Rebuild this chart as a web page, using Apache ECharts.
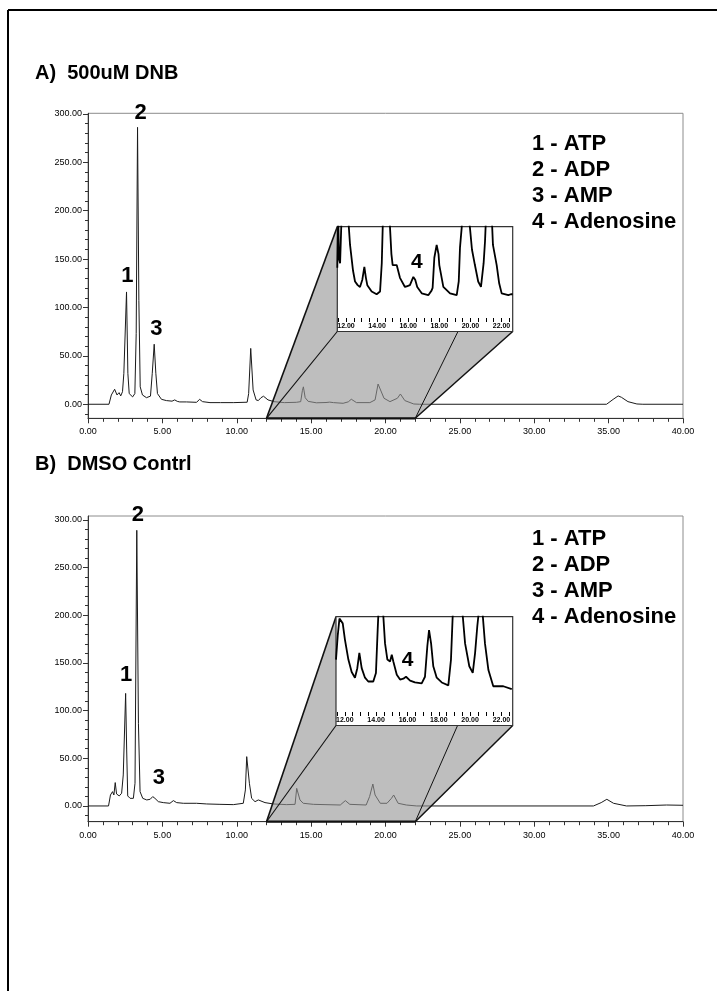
<!DOCTYPE html>
<html><head><meta charset="utf-8">
<script src="https://cdn.jsdelivr.net/npm/echarts@6/dist/echarts.min.js"></script>
<style>html,body{margin:0;padding:0;background:#fff}#c{width:717px;height:991px}</style>
</head><body><div id="c"></div>
<script>
// ---------------- data ----------------
const titleA = 'A)  500uM DNB';
const titleB = 'B)  DMSO Contrl';
const legendLines = ['1 - ATP', '2 - ADP', '3 - AMP', '4 - Adenosine'];

const mainXRange = [0, 40];
const mainYMajorTicks = [0, 50, 100, 150, 200, 250, 300];
const mainYMinorTicks = [-10, 0, 10, 20, 30, 40, 50, 60, 70, 80, 90, 100, 110, 120, 130, 140, 150, 160, 170, 180, 190, 200, 210, 220, 230, 240, 250, 260, 270, 280, 290, 300];
const yRangeA = [-14.5, 300.5];
const yRangeB = [-16.5, 304];

const zoomWindow = [12, 22];          // region of main x-axis that is magnified
const insetXRange = [11.44, 22.72];
const insetXTicks = [11.5, 12, 12.5, 13, 13.5, 14, 14.5, 15, 15.5, 16, 16.5, 17, 17.5, 18, 18.5, 19, 19.5, 20, 20.5, 21, 21.5, 22, 22.5];
const insetXLabels = [12, 14, 16, 18, 20, 22];
const insetGuideX = 19.2;

// main chromatogram A (time min, mAU)
const traceA = [[0,0],[1.41,0],[1.57,9.6],[1.68,11.3],[1.79,15.5],[1.86,17.5],[1.95,9.6],[2.09,12],[2.2,8.6],[2.32,13],[2.41,32],[2.5,32.6],[2.59,116],[2.68,32],[2.77,11],[3.0,7.6],[3.15,11],[3.24,73],[3.33,286],[3.42,107],[3.51,18],[3.66,9.6],[3.93,6.8],[4.2,8.4],[4.32,32],[4.45,62],[4.56,32],[4.67,11],[4.94,5.1],[5.27,3.8],[5.65,3.2],[5.83,4.5],[6.0,3],[6.17,2.4],[6.62,2.4],[7.3,2],[7.5,5.1],[7.7,2.7],[8.2,1.7],[8.9,1.7],[9.8,1.7],[10.7,2.1],[10.8,11],[10.94,57.7],[10.98,58.8],[11.1,14.8],[11.3,4.5],[11.45,3.8],[11.63,6.8],[11.8,8.3],[12.1,4.5],[12.5,2.7],[13.2,1.7],[14.0,2],[14.3,2.7],[14.41,14],[14.48,18],[14.6,6.8],[14.8,3],[15.35,1.5],[16.0,1.8],[16.25,2.2],[16.5,1.7],[17.15,1],[17.5,2.5],[17.7,5.2],[18.05,1.7],[18.95,1.7],[19.3,4.5],[19.5,20.9],[19.6,20],[19.9,6.2],[20.3,2.7],[20.8,6.2],[21.0,10.6],[21.3,3.8],[21.9,0.3],[22.3,0],[34.86,0],[35.3,5],[35.64,8.6],[35.86,7.2],[36.3,2.7],[36.9,0.3],[37.3,0],[40,0]];

// main chromatogram B
const traceB = [[0,0],[1.38,0],[1.51,11.5],[1.65,15],[1.74,11.5],[1.83,24.5],[1.92,12.6],[2.1,10.5],[2.26,13.3],[2.37,32.5],[2.44,34],[2.53,118],[2.6,58.7],[2.67,10.5],[2.83,8],[3.05,8],[3.16,23.8],[3.28,289],[3.39,86.7],[3.5,15],[3.68,8],[3.95,6.3],[4.18,7],[4.35,9.8],[4.5,8],[4.73,4.5],[5.06,3.5],[5.51,2.8],[5.74,5.6],[5.96,3.5],[6.41,2.8],[7.3,2.8],[7.98,2.1],[8.87,1.7],[9.77,1.4],[10.44,2.8],[10.58,16.8],[10.67,51.7],[10.74,53.5],[10.85,23.8],[11.0,8],[11.23,4.5],[11.45,6.3],[11.56,7],[11.9,3.5],[12.46,2.1],[13.36,1.4],[13.92,1.7],[14.03,18.5],[14.1,19.2],[14.25,6.3],[14.47,2.8],[15.15,1.7],[16.96,1],[17.3,5.6],[17.6,1.7],[18.7,1],[18.93,9.8],[19.15,23],[19.3,11.5],[19.65,2.8],[20.1,2.8],[20.4,8],[20.55,11.5],[20.85,2.8],[21.4,1],[22.1,0],[33.98,0],[34.5,3.5],[34.88,7],[35.33,2.8],[36.2,0],[37.5,0.3],[38.9,1],[40,0.7]];

// magnified insets (relative scale 0-100 of the inset window)
const insetTraceA = [[11.44,55],[11.50,110],[11.55,65],[11.62,60],[11.75,130],[11.95,150],[12.10,120],[12.26,80],[12.45,52],[12.58,40],[12.75,36],[12.90,34],[13.05,42],[13.18,56],[13.28,44],[13.37,36],[13.65,29],[13.97,26],[14.19,29],[14.30,60],[14.36,99],[14.45,150],[14.62,170],[14.78,130],[14.83,99],[14.92,70],[15.00,58],[15.12,56],[15.26,58],[15.47,44],[15.79,34],[15.95,35],[16.11,36],[16.33,45],[16.45,42],[16.58,34],[16.87,27],[17.29,25],[17.50,30],[17.57,33],[17.68,66],[17.83,80],[17.95,70],[18.00,58],[18.26,34],[18.69,27],[19.12,25],[19.25,40],[19.33,77],[19.44,99],[19.60,170],[19.72,140],[19.97,99],[20.10,75],[20.29,58],[20.50,40],[20.68,34],[20.85,60],[20.94,84],[21.05,130],[21.21,160],[21.35,120],[21.45,80],[21.69,58],[21.85,38],[22.01,27],[22.44,25],[22.60,26],[22.72,26]];
const insetTraceB = [[11.44,55],[11.55,80],[11.66,98],[11.74,100],[11.87,93],[12.01,76],[12.23,55],[12.44,42],[12.65,36],[12.80,46],[12.93,62],[13.08,46],[13.29,36],[13.50,32],[13.82,32],[13.99,41],[14.10,86],[14.14,101],[14.29,150],[14.46,101],[14.57,72],[14.72,55],[14.89,53],[15.00,60],[15.10,53],[15.32,39],[15.53,34],[15.74,35],[15.91,37],[16.17,33],[16.48,31],[16.91,30],[17.12,37],[17.27,69],[17.38,86],[17.51,72],[17.65,48],[17.87,36],[18.19,31],[18.61,28],[18.78,55],[18.89,101],[19.17,150],[19.53,101],[19.68,72],[19.95,48],[20.17,41],[20.32,62],[20.46,90],[20.53,101],[20.64,140],[20.81,101],[20.95,72],[21.17,44],[21.48,27],[22.12,27],[22.66,24]];

// peak number annotations [x, y, text]
const peakLabelsA = [[2.64,133,'1'],[3.54,300.8,'2'],[4.6,77.6,'3']];
const peakLabelsB = [[2.56,137.5,'1'],[3.36,304.6,'2'],[4.76,29.4,'3']];
const insetLabelA = [[16.55,60.8,'4']];
const insetLabelB = [[16.01,53.9,'4']];

// ---------------- chart ----------------
const FONT = '"Liberation Sans", Arial, Helvetica, sans-serif';
const chart = echarts.init(document.getElementById('c'), null, {renderer: 'canvas'});

function mainX(gi) {
  return {gridIndex: gi, type: 'value', min: mainXRange[0], max: mainXRange[1], interval: 5,
    axisLine: {show: true, onZero: false, lineStyle: {color: '#333', width: 1}},
    axisTick: {show: true, length: 5, lineStyle: {color: '#333'}},
    minorTick: {show: true, splitNumber: 5, length: 3.5, lineStyle: {color: '#333'}},
    axisLabel: {fontSize: 9, color: '#000', margin: 9, fontFamily: FONT, formatter: v => v.toFixed(2)},
    splitLine: {show: false}, minorSplitLine: {show: false}};
}
function mainY(gi, r) {
  return {gridIndex: gi, type: 'value', position: 'left', min: r[0], max: r[1],
    axisLine: {show: true, onZero: false, lineStyle: {color: '#333', width: 1}},
    axisTick: {show: true, length: 5, customValues: mainYMajorTicks, lineStyle: {color: '#333'}},
    axisLabel: {customValues: mainYMajorTicks, fontSize: 9, color: '#000', margin: 6, fontFamily: FONT, formatter: v => v.toFixed(2)},
    splitLine: {show: false}};
}
function mainYMinor(gi, r) {
  return {gridIndex: gi, type: 'value', position: 'left', min: r[0], max: r[1],
    axisLine: {show: false}, axisLabel: {show: false}, splitLine: {show: false},
    axisTick: {show: true, length: 3, customValues: mainYMinorTicks, lineStyle: {color: '#333'}}};
}
function insetX(gi) {
  return {gridIndex: gi, type: 'value', min: insetXRange[0], max: insetXRange[1], z: 6,
    axisLine: {show: false, onZero: false},
    axisTick: {show: true, length: 4, customValues: insetXTicks, lineStyle: {color: '#000', width: 1}},
    axisLabel: {customValues: insetXLabels, fontSize: 7, fontWeight: 'bold', color: '#000', margin: 5, fontFamily: FONT, formatter: v => v.toFixed(2)},
    splitLine: {show: false}};
}
function insetY(gi) {
  return {gridIndex: gi, type: 'value', min: 0, max: 100, show: false};
}

const gridBase = {show: true, borderColor: '#8c8c8c', borderWidth: 1, backgroundColor: 'transparent', containLabel: false, outerBoundsMode: 'none'};
const titleStyle = {fontSize: 20, lineHeight: 20, fontWeight: 'bold', color: '#000', fontFamily: FONT};
const legendStyle = {fontSize: 22, lineHeight: 26, fontWeight: 'bold', color: '#000', fontFamily: FONT};

const option = {
  animation: false,
  backgroundColor: '#fff',
  textStyle: {fontFamily: FONT},
  title: [
    {text: titleA, left: 35, top: 63, padding: 0, textStyle: titleStyle},
    {text: titleB, left: 35, top: 454, padding: 0, textStyle: titleStyle},
    {text: legendLines.join('\n'), left: 532, top: 131, padding: 0, textStyle: legendStyle},
    {text: legendLines.join('\n'), left: 532, top: 526, padding: 0, textStyle: legendStyle}
  ],
  grid: [
    Object.assign({}, gridBase, {left: 88, top: 113.3, width: 595, height: 305}),
    {show: false, left: 337.3, top: 226.7, width: 175.4, height: 91.3, containLabel: false, outerBoundsMode: 'none'},
    Object.assign({}, gridBase, {left: 88, top: 516, width: 595, height: 305.7}),
    {show: false, left: 336, top: 616.7, width: 176.7, height: 95.3, containLabel: false, outerBoundsMode: 'none'}
  ],
  xAxis: [mainX(0), insetX(1), mainX(2), insetX(3)],
  yAxis: [mainY(0, yRangeA), mainYMinor(0, yRangeA), insetY(1), mainY(2, yRangeB), mainYMinor(2, yRangeB), insetY(3)],
  series: [
    {type: 'line', xAxisIndex: 0, yAxisIndex: 0, data: traceA, symbol: 'none', z: 2, lineStyle: {color: '#1a1a1a', width: 1}},
    {type: 'line', xAxisIndex: 1, yAxisIndex: 2, data: insetTraceA, symbol: 'none', z: 5, clip: true, lineStyle: {color: '#000', width: 1.8}},
    {type: 'line', xAxisIndex: 2, yAxisIndex: 3, data: traceB, symbol: 'none', z: 2, lineStyle: {color: '#1a1a1a', width: 1}},
    {type: 'line', xAxisIndex: 3, yAxisIndex: 5, data: insetTraceB, symbol: 'none', z: 5, clip: true, lineStyle: {color: '#000', width: 1.8}}
  ]
};
chart.setOption(option);

// --------- decoration positioned through the axes ---------
const BOX_PAD = 13.5;
const graphics = [];
function addZoom(mx, my, ix, iy, yMin) {
  const P1 = chart.convertToPixel({xAxisIndex: mx, yAxisIndex: my}, [zoomWindow[0], yMin]);
  const P2 = chart.convertToPixel({xAxisIndex: mx, yAxisIndex: my}, [zoomWindow[1], yMin]);
  const TL = chart.convertToPixel({xAxisIndex: ix, yAxisIndex: iy}, [insetXRange[0], 100]);
  const BR = chart.convertToPixel({xAxisIndex: ix, yAxisIndex: iy}, [insetXRange[1], 0]);
  const M = chart.convertToPixel({xAxisIndex: ix, yAxisIndex: iy}, [insetGuideX, 0]);
  const bb = BR[1] + BOX_PAD;
  graphics.push({type: 'polygon', z: 3, silent: true,
    shape: {points: [P1, TL, [BR[0], TL[1]], [BR[0], bb], P2]},
    style: {fill: 'rgba(150,150,150,0.62)'}});
  const ln = (a, b, w) => graphics.push({type: 'line', z: 3.5, silent: true,
    shape: {x1: a[0], y1: a[1], x2: b[0], y2: b[1]}, style: {stroke: '#111', lineWidth: w}});
  ln(P1, TL, 1.6);
  ln(P1, [TL[0], bb], 1.1);
  ln(P2, [BR[0], bb], 1.5);
  ln(P2, [M[0], bb], 1.0);
  ln(P1, P2, 2.2);
  graphics.push({type: 'rect', z: 4, silent: true,
    shape: {x: TL[0], y: TL[1], width: BR[0] - TL[0], height: bb - TL[1]},
    style: {fill: '#fff', stroke: '#333', lineWidth: 1.2}});
}
function addLabels(xi, yi, list, size) {
  list.forEach(d => {
    const p = chart.convertToPixel({xAxisIndex: xi, yAxisIndex: yi}, [d[0], d[1]]);
    graphics.push({type: 'text', z: 12, silent: true, x: p[0], y: p[1],
      style: {text: d[2], fill: '#000', font: 'bold ' + size + 'px ' + FONT, align: 'center', verticalAlign: 'middle'}});
  });
}
addZoom(0, 0, 1, 2, yRangeA[0]);
addZoom(2, 3, 3, 5, yRangeB[0]);
addLabels(0, 0, peakLabelsA, 22);
addLabels(2, 3, peakLabelsB, 22);
addLabels(1, 2, insetLabelA, 21);
addLabels(3, 5, insetLabelB, 21);
// page frame
graphics.push({type: 'line', z: 20, silent: true, shape: {x1: 8, y1: 10, x2: 717, y2: 10}, style: {stroke: '#000', lineWidth: 2}});
graphics.push({type: 'line', z: 20, silent: true, shape: {x1: 8, y1: 10, x2: 8, y2: 991}, style: {stroke: '#000', lineWidth: 2}});
chart.setOption({graphic: graphics});
</script>
</body></html>
